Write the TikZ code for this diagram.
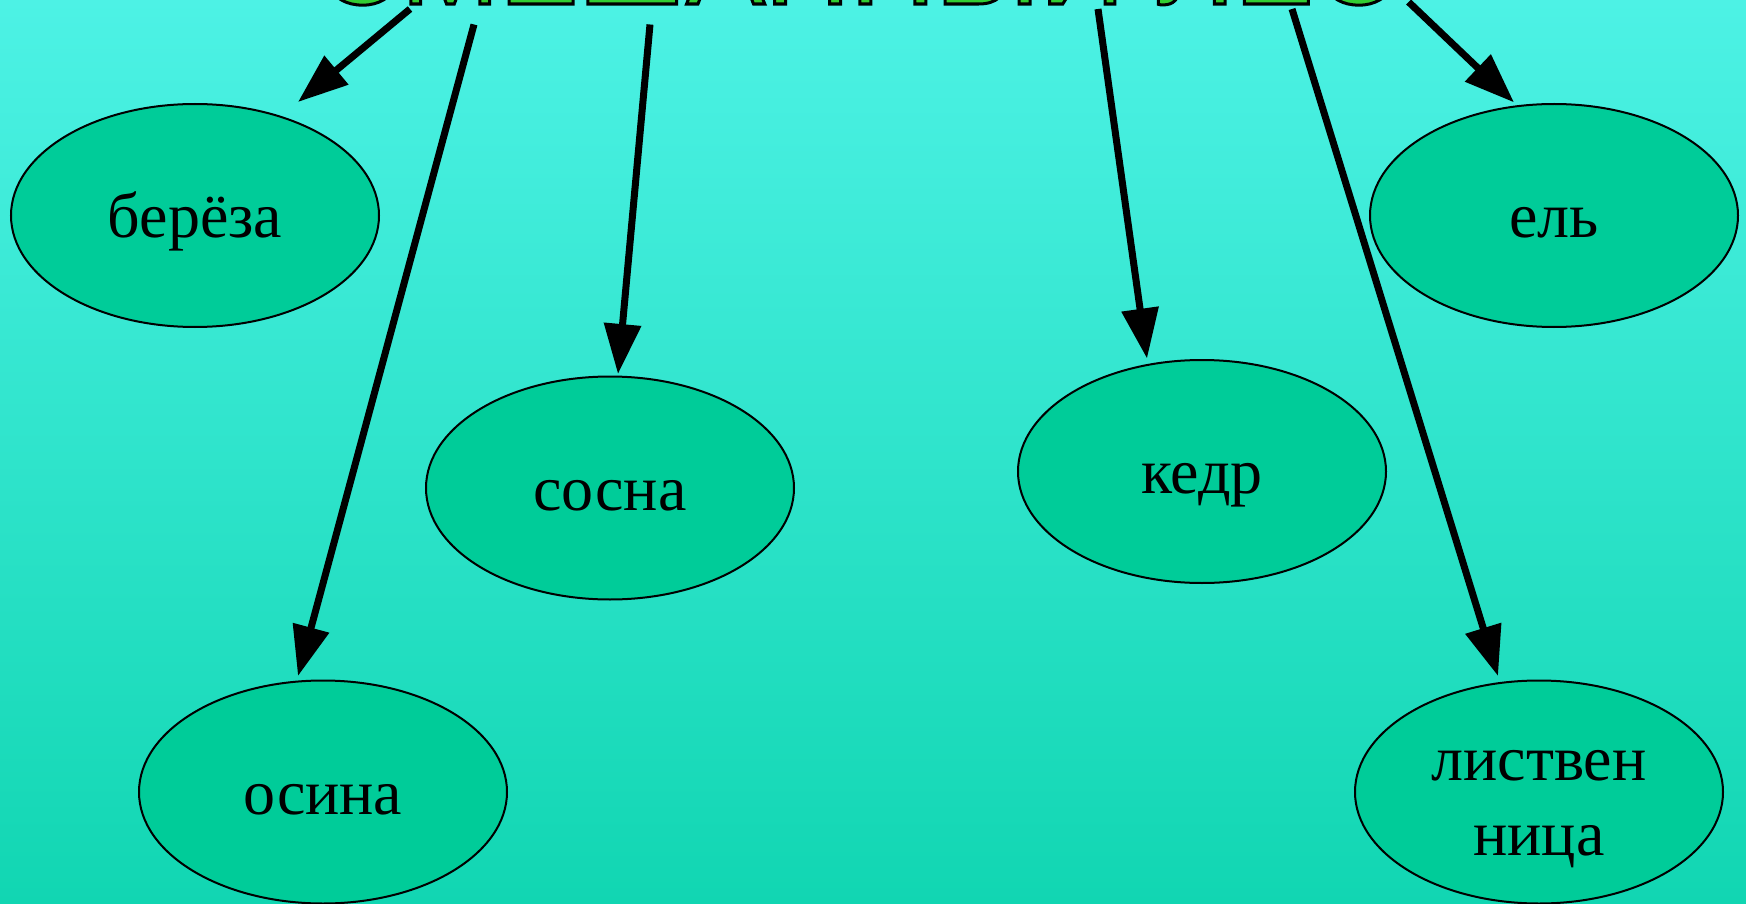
\documentclass[tikz,border=0pt]{standalone}
\usepackage{fontspec}
\setmainfont{Liberation Serif}
\newfontfamily\titlefont{Liberation Sans}
\usetikzlibrary{shapes.geometric,arrows.meta}
\definecolor{bgtop}{RGB}{77,242,229}
\definecolor{bgbot}{RGB}{17,214,178}
\definecolor{treefill}{RGB}{0,204,153}
\definecolor{titlegreen}{RGB}{50,205,50}
\tikzset{
  tree/.style={ellipse, draw=black, line width=2pt, fill=treefill,
    minimum width=368pt, minimum height=223pt, inner sep=0pt},
  treetext/.style={font=\fontsize{64}{75}\selectfont, inner sep=0pt},
  oneline/.style={text height=52pt, text depth=8pt},
  arr/.style={line width=7pt, draw=black, -{Triangle[length=50pt,width=36pt]}},
}
\begin{document}
\begin{tikzpicture}[x=1pt,y=-1pt]
\useasboundingbox (0,0) rectangle (1746,904);
\begin{scope}
\clip (0,0) rectangle (1746,904);
\shade[top color=bgtop,bottom color=bgbot] (0,0) rectangle (1746,904);

\node[tree,treetext,oneline] (bereza) at (195,215.5) {берёза};
\node[tree,treetext,oneline] (osina)  at (323,792)   {осина};
\node[tree,treetext,oneline] (sosna)  at (610,488)   {сосна};
\node[tree,treetext,oneline] (kedr)   at (1202,471.5) {кедр};
\node[tree,treetext,oneline] (el)     at (1554,215.5) {ель};
\node[tree] (listv) at (1539,792) {};
\node[treetext,align=center] (listvtext) at (1539,809) {листвен\\ница};

\node[anchor=base, text=titlegreen, inner sep=0pt,
      font=\titlefont\fontsize{118}{130}\selectfont] (title) at (858,4)
  {\special{pdf:literal direct 2 Tr 0 G 3 w}СМЕШАННЫЙ ЛЕС\special{pdf:literal direct 0 Tr 0.4 w}};

\coordinate (s1) at (410,9);
\coordinate (s2) at (474,24.5);
\coordinate (s3) at (650,24.5);
\coordinate (s4) at (1098,9);
\coordinate (s5) at (1292,9);
\coordinate (s6) at (1408.6,2);
\coordinate (e1) at (298,102);
\coordinate (e2) at (298,676);
\coordinate (e3) at (618,374);
\coordinate (e4) at (1147,358.5);
\coordinate (e5) at (1498,676);
\coordinate (e6) at (1514,102.4);

\draw[arr] (s1) -- (e1);
\draw[arr] (s2) -- (e2);
\draw[arr] (s3) -- (e3);
\draw[arr] (s4) -- (e4);
\draw[arr] (s5) -- (e5);
\draw[arr] (s6) -- (e6);
\end{scope}
\end{tikzpicture}
\end{document}
